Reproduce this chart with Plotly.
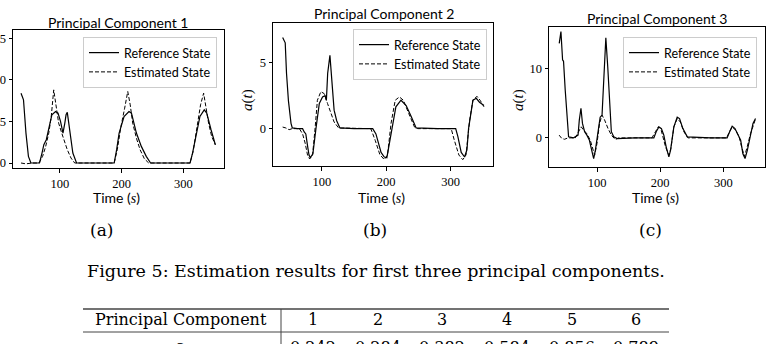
import plotly.graph_objects as go

W, H = 770, 344

# ---------------- data ----------------
t1_ref = [37, 41, 45, 49, 53, 60, 67, 71, 74, 78, 82, 87, 93, 97, 101, 105, 108, 110, 112, 114, 117, 121, 127, 150, 170, 188, 192, 196, 204, 212, 216, 224, 232, 240, 247, 270, 290, 311, 315, 319, 327, 334, 338, 345, 352]
a1_ref = [0.84, 0.76, 0.36, 0.08, 0.0, 0.0, 0.0, 0.12, 0.22, 0.28, 0.40, 0.58, 0.62, 0.60, 0.50, 0.36, 0.48, 0.58, 0.61, 0.50, 0.30, 0.12, 0.0, 0.0, 0.0, 0.0, 0.16, 0.36, 0.56, 0.62, 0.60, 0.36, 0.20, 0.08, 0.0, 0.0, 0.0, 0.0, 0.12, 0.28, 0.56, 0.64, 0.60, 0.40, 0.22]
t1_est = [37, 45, 55, 66, 72, 77, 82, 86, 90, 94, 98, 103, 107, 112, 118, 124, 150, 188, 193, 199, 205, 210, 214, 218, 224, 230, 237, 244, 280, 311, 316, 322, 328, 333, 337, 341, 346, 352]
a1_est = [0.0, -0.01, 0.0, 0.0, 0.08, 0.20, 0.36, 0.56, 0.88, 0.68, 0.48, 0.36, 0.27, 0.16, 0.06, 0.0, 0.0, 0.0, 0.16, 0.44, 0.66, 0.86, 0.70, 0.48, 0.30, 0.16, 0.05, 0.0, 0.0, 0.0, 0.14, 0.44, 0.70, 0.84, 0.66, 0.48, 0.32, 0.22]

t2_ref = [39, 43, 45, 48, 52, 54, 62, 70, 72.5, 75, 78, 80, 82, 86, 91, 96, 101, 105, 107, 109, 112.5, 115.6, 119, 123, 128, 150, 179, 184, 192, 197, 201, 205, 209, 215, 223, 231, 239, 246.5, 280, 308, 311.4, 316.6, 321.8, 325.5, 328, 334.8, 340, 345, 352]
a2_ref = [6.9, 6.5, 4.2, 2.1, 0.4, 0.05, 0.0, 0.0, -0.25, -0.4, -1.4, -2.0, -2.2, -1.9, 0.1, 1.9, 2.4, 2.5, 2.15, 4.2, 5.55, 3.4, 1.4, 0.6, 0.05, 0.0, 0.0, -0.4, -1.8, -2.15, -2.2, -1.1, 0.0, 1.65, 2.15, 1.75, 0.9, 0.05, 0.0, 0.0, -0.6, -1.8, -2.15, -1.6, 0.0, 2.15, 2.3, 2.0, 1.75]
t2_est = [39, 44, 49, 54, 65, 70, 74, 77.7, 81, 85.5, 89.6, 93, 98.4, 103.6, 108.8, 114, 119, 126, 150, 176, 183, 190, 197, 202, 207.5, 214, 220.5, 226.7, 235, 244, 249, 280, 301, 306, 313, 319, 324, 329.6, 334.8, 341, 346, 352]
a2_est = [0.12, 0.05, -0.08, 0.0, 0.0, -0.4, -1.1, -2.0, -2.3, -2.0, 0.12, 2.15, 2.8, 2.65, 1.9, 1.15, 0.5, 0.05, 0.0, 0.0, -0.9, -1.95, -2.35, -2.0, 0.4, 2.15, 2.4, 2.15, 1.15, 0.12, 0.0, 0.0, 0.0, -0.9, -2.0, -2.35, -2.0, 0.6, 2.15, 2.45, 2.15, 1.65]

t3_ref = [40.2, 42.9, 45.5, 47, 49.7, 52.4, 55, 63, 70, 72, 74.6, 77, 80.4, 84, 88, 91, 94.7, 97.4, 101.6, 105, 108, 109.5, 112, 114, 117, 118.5, 120, 122.7, 126.5, 132, 160, 190, 193.7, 198, 202, 205.8, 209.5, 213.8, 216.4, 221.7, 227, 230.7, 236, 243, 280, 306, 310, 314, 318.5, 322, 327.5, 331, 334.4, 338, 343, 347, 351]
a3_ref = [13.7, 15.4, 11.3, 11.1, 6.9, 4.0, 0.15, 0.0, 0.4, 2.6, 4.3, 2.1, 0.9, 0.4, -0.35, -1.55, -3.0, -1.8, 1.1, 3.0, 3.3, 6.0, 10.3, 14.5, 10.3, 7.9, 4.0, 0.9, 0.15, -0.1, 0.0, 0.0, 0.9, 1.6, 1.35, 0.4, -1.3, -2.75, -1.8, 1.6, 3.0, 2.8, 1.35, 0.15, 0.0, 0.0, 0.9, 1.7, 1.35, 0.6, -0.35, -2.3, -3.0, -1.8, 0.15, 2.1, 2.8]
t3_est = [40, 44.4, 48.7, 54, 65.6, 71, 75, 79, 84, 89.4, 93.7, 96.3, 100, 104, 108, 112, 117.5, 122.7, 129, 134, 160, 187, 192.6, 197, 201, 204, 208.5, 213.8, 217, 221.7, 227, 232, 237.5, 244, 280, 305, 310, 314, 319.6, 325, 329, 333.5, 337.8, 343, 348.7, 351]
a3_est = [0.4, -0.1, -0.2, 0.0, 0.0, 0.9, 1.6, 1.1, 0.6, -0.35, -1.8, -2.5, -0.8, 2.1, 3.3, 2.6, 1.35, 0.4, -0.25, 0.0, 0.0, 0.0, 0.9, 1.6, 1.35, 0.4, -1.3, -2.5, -1.55, 1.6, 2.8, 2.3, 0.9, 0.0, 0.0, 0.0, 0.9, 1.6, 1.1, 0.15, -1.3, -2.7, -1.3, 0.6, 2.1, 2.8]

panel_titles = ["Principal Component 1", "Principal Component 2", "Principal Component 3"]
series_names = ["Reference State", "Estimated State"]
x_ticks = [100, 200, 300]
y_ticks = [[0, 0.5, 1.0, 1.5], [0, 5], [0, 10]]
y_ticktext = [["0.0", "0.5", "1.0", "1.5"], ["0", "5"], ["0", "10"]]
y_ranges = [[-0.06, 1.6], [-2.83, 8.0], [-4.22, 16.07]]
x_range = [24, 366]
sub_labels = ["(a)", "(b)", "(c)"]
caption = "Figure 5: Estimation results for first three principal components."
table_header = ["Principal Component", "1", "2", "3", "4", "5", "6"]
table_row = ["\u03f5<sub>i</sub>", "0.242", "0.284", "0.382", "0.584", "0.856", "0.789"]

# ---------------- layout geometry (pixels) ----------------
boxes = [(13, 224, 30, 168), (273, 493, 23, 166), (549, 765, 27, 167)]
title_pos = [(118, 22), (384, 14), (657, 19)]
legend_pos = [(217, 37), (487, 29), (757, 37)]
SANS = "Lato"
SERIF = "Liberation Serif"
CAPSERIF = "DejaVu Serif"

def px(x):
    return x / W

def py(y):
    return 1 - y / H

fig = go.Figure()
refs = [(t1_ref, a1_ref, t1_est, a1_est), (t2_ref, a2_ref, t2_est, a2_est), (t3_ref, a3_ref, t3_est, a3_est)]
legend_ids = ["legend", "legend2", "legend3"]
for i, (tr, ar, te, ae) in enumerate(refs):
    xa = "x" if i == 0 else f"x{i+1}"
    ya = "y" if i == 0 else f"y{i+1}"
    fig.add_trace(go.Scatter(x=tr, y=ar, mode="lines", name=series_names[0], xaxis=xa, yaxis=ya,
                             line=dict(color="black", width=1.2), legend=legend_ids[i]))
    fig.add_trace(go.Scatter(x=te, y=ae, mode="lines", name=series_names[1], xaxis=xa, yaxis=ya,
                             line=dict(color="black", width=1.0, dash="4px,2px"), legend=legend_ids[i]))

layout = dict(width=W, height=H, margin=dict(l=0, r=0, t=0, b=0, autoexpand=False), paper_bgcolor="white",
              plot_bgcolor="white", showlegend=True)
tickfont = dict(family=SERIF, size=12.5, color="black")
for i, (x0, x1, y0, y1) in enumerate(boxes):
    sfx = "" if i == 0 else str(i + 1)
    layout["xaxis" + sfx] = dict(domain=[px(x0), px(x1)], range=x_range, anchor="y" + sfx,
                                 showline=True, mirror=True, linecolor="black", linewidth=1,
                                 ticks="outside", ticklen=3.5, tickcolor="black", tickvals=x_ticks,
                                 showgrid=False, zeroline=False, tickfont=tickfont, automargin=False)
    layout["yaxis" + sfx] = dict(domain=[py(y1), py(y0)], range=y_ranges[i], anchor="x" + sfx,
                                 showline=True, mirror=True, linecolor="black", linewidth=1,
                                 ticks="outside", ticklen=3.5, tickcolor="black",
                                 tickvals=y_ticks[i], ticktext=y_ticktext[i],
                                 showgrid=False, zeroline=False, tickfont=tickfont, automargin=False)
    lx, ly = legend_pos[i]
    layout[legend_ids[i]] = dict(x=px(lx), y=py(ly), xanchor="right", yanchor="top",
                                 bgcolor="rgba(255,255,255,0.85)", bordercolor="#cccccc", borderwidth=1,
                                 font=dict(family=SANS, size=12.5, color="black"), tracegroupgap=0,
                                 itemwidth=30)
fig.update_layout(**layout)

ann = []
for i in range(3):
    tx, ty = title_pos[i]
    ann.append(dict(text=panel_titles[i], x=px(tx), y=py(ty), font=dict(family=SANS, size=14, color="black")))
    x0, x1, y0, y1 = boxes[i]
    ann.append(dict(text="Time (<span style='font-family:Liberation Serif;font-style:italic'>s</span>)",
                    x=px((x0 + x1) / 2 - 2), y=py(197), font=dict(family=SANS, size=14, color="black")))
for xx in [247, 518]:
    ann.append(dict(text="<i>a</i>(<i>t</i>)", x=px(xx), y=py(100), textangle=-90,
                    font=dict(family=SERIF, size=15, color="black")))
for xx, lab in zip([102, 375, 650], sub_labels):
    ann.append(dict(text=lab, x=px(xx), y=py(230), font=dict(family=CAPSERIF, size=17, color="black")))
ann.append(dict(text=caption, x=px(376), y=py(271), font=dict(family=CAPSERIF, size=17.5, color="black")))
col_x = [181, 313, 378, 442, 507, 572, 636]
for xx, h, r in zip(col_x, table_header, table_row):
    ann.append(dict(text=h, x=px(xx), y=py(319), font=dict(family=CAPSERIF, size=16, color="black")))
    ann.append(dict(text=r, x=px(xx), y=py(347), font=dict(family=CAPSERIF, size=16, color="black")))
for a in ann:
    a.update(xref="paper", yref="paper", showarrow=False, xanchor="center", yanchor="middle")
fig.update_layout(annotations=ann)

shapes = [
    dict(type="line", x0=px(83), x1=px(669), y0=py(309), y1=py(309), line=dict(color="#444444", width=1.6)),
    dict(type="line", x0=px(83), x1=px(669), y0=py(332), y1=py(332), line=dict(color="#444444", width=1)),
    dict(type="line", x0=px(281), x1=px(281), y0=py(309), y1=py(350), line=dict(color="#444444", width=1)),
]
for s in shapes:
    s.update(xref="paper", yref="paper")
fig.update_layout(shapes=shapes)

fig.write_html("out.html")
